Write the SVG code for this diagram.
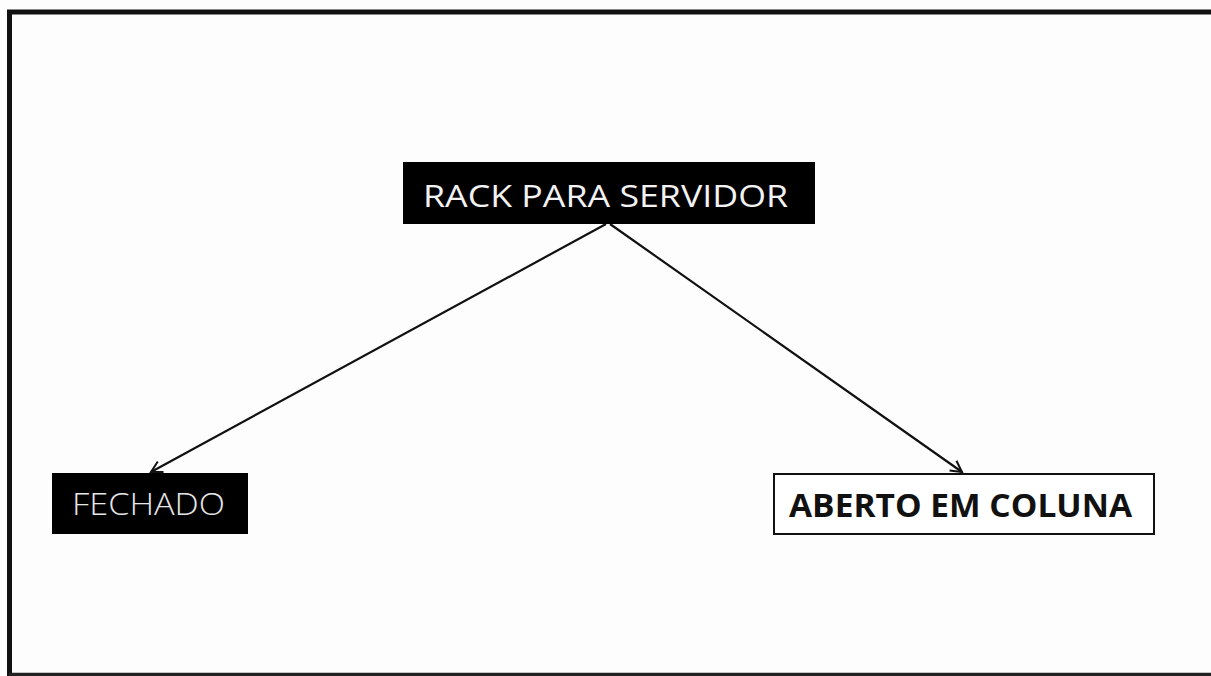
<svg xmlns="http://www.w3.org/2000/svg" width="1211" height="676" viewBox="0 0 1211 676">
<defs>
<style>
.lbl{font-family:"Open Sans","Liberation Sans",sans-serif;}
.conn{stroke:#111;stroke-width:2.2;fill:none;}
</style>
<marker id="arr" markerWidth="14" markerHeight="14" refX="12" refY="7" orient="auto" markerUnits="userSpaceOnUse">
<path d="M1,1 L12,7 L1,13" fill="none" stroke="#111" stroke-width="2"/>
</marker>
</defs>
<rect x="0" y="0" width="1211" height="676" fill="#fdfdfd"/>
<g id="frame">
<path d="M9.5,676 L9.5,12 L1211,12" fill="none" stroke="#111" stroke-width="5"/>
<line x1="9" y1="674.5" x2="1211" y2="674.5" stroke="#222" stroke-width="3.5"/>
</g>
<g id="connectors">
<line class="conn" x1="606" y1="224" x2="151" y2="472" marker-end="url(#arr)"/>
<line class="conn" x1="610" y1="224" x2="962" y2="472" marker-end="url(#arr)"/>
</g>
<g id="node-rack">
<rect x="403" y="162" width="412" height="62" fill="#000"/>
<text class="lbl" x="423" y="207" font-size="31" fill="#f2f2f2" textLength="365" lengthAdjust="spacingAndGlyphs">RACK PARA SERVIDOR</text>
</g>
<g id="node-fechado">
<rect x="52" y="473" width="196" height="61" fill="#000"/>
<text class="lbl" x="72" y="515" font-size="31" font-weight="300" fill="#e6e6e6" textLength="153" lengthAdjust="spacingAndGlyphs">FECHADO</text>
</g>
<g id="node-aberto">
<rect x="774" y="474" width="380" height="60" fill="#fff" stroke="#111" stroke-width="2"/>
<text class="lbl" x="789" y="517" font-size="32" font-weight="bold" fill="#111" textLength="343" lengthAdjust="spacingAndGlyphs">ABERTO EM COLUNA</text>
</g>
</svg>
